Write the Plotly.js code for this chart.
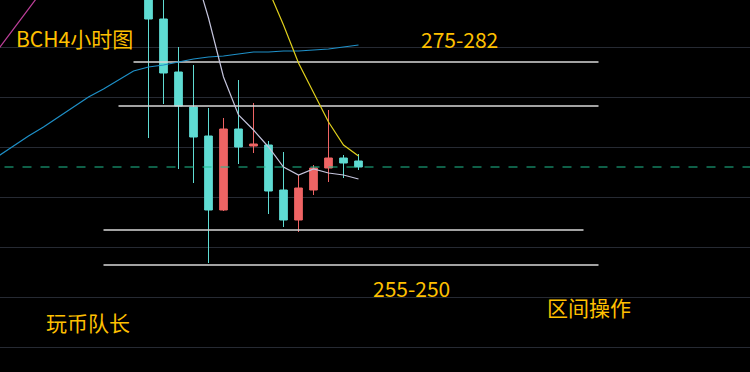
<!DOCTYPE html>
<html>
<head>
<meta charset="utf-8">
<script src="https://cdn.plot.ly/plotly-3.0.1.min.js"></script>
<style>html,body{margin:0;padding:0;background:#000;}#chart{width:750px;height:372px;}</style>
</head>
<body>
<div id="chart"></div>
<script>
// Candle data (index positions and OHLC prices)
const candleX = [0,1,2,3,4,5,6,7,8,9,10,11,12,13,14];
const openV  = [285.7,282.8,277.5,274.0,271.1,263.7,271.8,270.1,270.2,265.7,262.7,265.7,267.9,268.9,268.6];
const highV  = [287.0,286.0,280.0,278.2,273.9,272.9,276.7,274.4,270.6,269.5,267.2,268.2,273.7,269.2,269.3];
const lowV   = [270.9,274.3,267.8,266.4,258.4,263.6,268.3,269.4,263.3,262.0,261.5,265.2,266.5,266.9,267.7];
const closeV = [282.8,277.4,274.1,271.0,263.7,271.8,270.0,270.3,265.6,262.7,265.9,267.9,268.9,268.4,268.0];

// Moving averages
const maX      = [-10,-9,-8,-7,-6,-5,-4,-3,-2,-1,0,1,2,3,4,5,6,7,8,9,10,11,12,13,14];
const maBlue   = [269.1,270.1,271.1,272.0,273.0,274.0,275.0,275.8,276.7,277.6,278.0,278.2,278.5,278.8,279.0,279.1,279.3,279.5,279.5,279.6,279.6,279.7,279.8,280.0,280.2];
const maPinkX  = [-10,-9,-8,-7];
const maPink   = [279.8,281.8,283.8,285.8];
const maWhiteX = [3,4,5,6,7,8,9,10,11,12,13,14];
const maWhite  = [288.0,282.9,277.0,273.2,271.7,270.0,268.0,267.2,267.8,267.4,267.2,266.8];
const maYellowX= [8,9,10,11,12,13,14];
const maYellow = [285.7,282.2,278.4,275.5,272.5,270.2,269.1];

// Horizontal level lines
const levelPrices = [278.5,274.1,261.7,258.2];
const levelStart  = [-1,-2,-3,-3];
const levelEnd    = [30,30,29,30];
const lastPrice = 268.0;

// Text labels
const labels = ["BCH4小时图","275-282","255-250","玩币队长","区间操作"];

const traces = [];
levelPrices.forEach((p,i)=>{
  traces.push({type:'scatter',mode:'lines',x:[levelStart[i],levelEnd[i]],y:[p,p],
    line:{color:'#d8d8d8',width:1.3},hoverinfo:'skip',showlegend:false});
});
traces.push({type:'scatter',mode:'lines',x:[-12,42],y:[lastPrice,lastPrice],
  line:{color:'#1fbf8f',width:1,dash:'dash'},hoverinfo:'skip',showlegend:false});
traces.push({type:'scatter',mode:'lines',x:maX,y:maBlue,line:{color:'#1e90c8',width:1.2},showlegend:false});
traces.push({type:'scatter',mode:'lines',x:maPinkX,y:maPink,line:{color:'#c0409c',width:1.2},showlegend:false});
traces.push({type:'scatter',mode:'lines',x:maWhiteX,y:maWhite,line:{color:'#c4c4dc',width:1.2},showlegend:false});
traces.push({type:'scatter',mode:'lines',x:maYellowX,y:maYellow,line:{color:'#e0d01c',width:1.2},showlegend:false});
traces.push({type:'candlestick',x:candleX,open:openV,high:highV,low:lowV,close:closeV,
  increasing:{line:{color:'#ef6464',width:1},fillcolor:'#ef6464'},
  decreasing:{line:{color:'#5fdcd3',width:1},fillcolor:'#5fdcd3'},
  whiskerwidth:0,showlegend:false});

const fnt = {family:'"Noto Sans CJK SC", "Noto Sans", sans-serif', size:21, color:'#ffc000'};
const annPos = [[0.018,0.898],[0.558,0.895],[0.495,0.226],[0.059,0.134],[0.727,0.175]];
const annotations = labels.map((t,i)=>({text:t,xref:'paper',yref:'paper',x:annPos[i][0],y:annPos[i][1],
  xanchor:'left',yanchor:'middle',showarrow:false,font:fnt}));

const layout = {
  width:750,height:372,margin:{l:0,r:0,t:0,b:0},
  paper_bgcolor:'#000',plot_bgcolor:'#000',
  boxgap:0.27,
  xaxis:{range:[-9.9,40.1],showgrid:false,zeroline:false,showticklabels:false,rangeslider:{visible:false},fixedrange:true},
  yaxis:{range:[247.5,284.7],tick0:250,dtick:5,showgrid:true,gridcolor:'#262a33',gridwidth:1,zeroline:false,showticklabels:false,fixedrange:true},
  annotations:annotations
};
Plotly.newPlot('chart',traces,layout,{displayModeBar:false,staticPlot:true});
</script>
</body>
</html>
